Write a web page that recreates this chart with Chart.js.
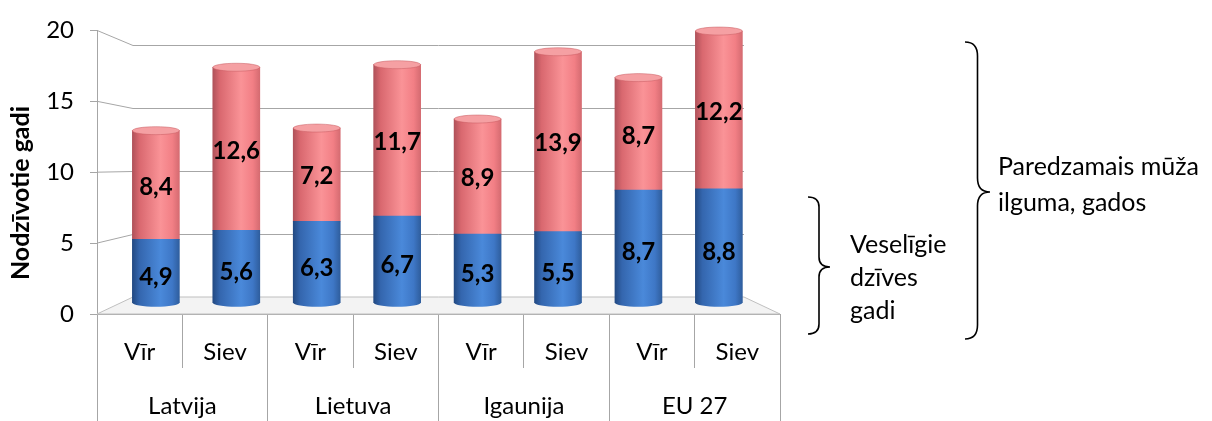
<!DOCTYPE html>
<html>
<head>
<meta charset="utf-8">
<script src="https://cdn.jsdelivr.net/npm/chart.js@4/dist/chart.umd.min.js"></script>
<style>
  html, body { margin: 0; padding: 0; background: #fff; }
</style>
</head>
<body>
<canvas id="chart" width="1212" height="421"></canvas>
<script>
const countries = ['Latvija', 'Lietuva', 'Igaunija', 'EU 27'];
const sexes = ['Vīr', 'Siev'];
const healthyYears = [4.9, 5.6, 6.3, 6.7, 5.3, 5.5, 8.7, 8.8];
const otherYears = [8.4, 12.6, 7.2, 11.7, 8.9, 13.9, 8.7, 12.2];
const yTicks = [0, 5, 10, 15, 20];
const yTitle = 'Nodzīvotie gadi';
const noteHealthy = ['Veselīgie', 'dzīves', 'gadi'];
const noteTotal = ['Paredzamais mūža', 'ilguma, gados'];

const barLabels = countries.flatMap(() => sexes);
const FONT = 'Lato';
const GRID = '#A6A6A6';
const barWidth = 47;
// fake 3d: back wall offset from the front axis
const depth = { dx: 36, dy: -17, k: 0.89 };

const redStops = [[0, '#B0525A'], [0.15, '#D9686F'], [0.6, '#FA9397'], [0.85, '#F27F85'], [1, '#D56B71']];
const blueStops = [[0, '#234A83'], [0.15, '#3466AE'], [0.6, '#4A89DA'], [0.85, '#3E77C6'], [1, '#2F5E9E']];

function cylinder(stops, plain) {
  return function (ctx) {
    const chart = ctx.chart;
    const xs = chart.scales.xBar;
    if (ctx.type !== 'data' || !xs) return plain;
    const cx = xs.getPixelForValue(ctx.dataIndex);
    if (!isFinite(cx)) return plain;
    const g = chart.ctx.createLinearGradient(cx - barWidth / 2, 0, cx + barWidth / 2, 0);
    stops.forEach(s => g.addColorStop(s[0], s[1]));
    return g;
  };
}

const fmt = v => v.toFixed(1).replace('.', ',');

function brace(c, x0, top, bottom, mid, w, r) {
  const xs = x0 + w * 0.5, xt = x0 + w;
  c.beginPath();
  c.moveTo(x0, top);
  c.quadraticCurveTo(xs, top, xs, top + r);
  c.lineTo(xs, mid - r);
  c.quadraticCurveTo(xs, mid, xt, mid);
  c.quadraticCurveTo(xs, mid, xs, mid + r);
  c.lineTo(xs, bottom - r);
  c.quadraticCurveTo(xs, bottom, x0, bottom);
  c.stroke();
}

const scene = {
  id: 'scene',
  beforeDatasetsDraw(chart) {
    const c = chart.ctx, a = chart.chartArea, y = chart.scales.y;
    const base = y.getPixelForValue(0);
    const xl = a.left + depth.dx, xr = a.right - depth.dx;
    const wallY = v => base + depth.dy + (y.getPixelForValue(v) - base) * depth.k;
    c.save();
    c.beginPath();
    c.moveTo(a.left, base);
    c.lineTo(xl, wallY(0));
    c.lineTo(xr, wallY(0));
    c.lineTo(a.right, base);
    c.closePath();
    c.fillStyle = '#F3F3F3';
    c.fill();
    c.strokeStyle = '#BFBFBF';
    c.lineWidth = 1;
    c.stroke();
    c.strokeStyle = GRID;
    yTicks.forEach(v => {
      if (v === 0) return;
      const yf = y.getPixelForValue(v), yw = Math.round(wallY(v)) + 0.5;
      c.beginPath();
      c.moveTo(a.left, yf);
      c.lineTo(xl, yw);
      c.lineTo(xr, yw);
      c.stroke();
    });
    c.restore();
  },
  afterDatasetsDraw(chart) {
    const c = chart.ctx;
    const low = chart.getDatasetMeta(0).data, high = chart.getDatasetMeta(1).data;
    c.save();
    low.forEach(el => {
      c.beginPath();
      c.ellipse(el.x, el.base, el.width / 2, 4, 0, 0, Math.PI);
      c.fillStyle = el.options.backgroundColor;
      c.fill();
    });
    high.forEach(el => {
      c.beginPath();
      c.ellipse(el.x, el.y, el.width / 2, 4, 0, 0, Math.PI * 2);
      c.fillStyle = '#F5A0A3';
      c.fill();
      c.strokeStyle = 'rgba(200,90,96,0.5)';
      c.lineWidth = 1;
      c.stroke();
    });
    c.fillStyle = '#000';
    c.font = 'bold 24px ' + FONT;
    c.textAlign = 'center';
    c.textBaseline = 'middle';
    [low, high].forEach((els, d) => {
      const vals = chart.data.datasets[d].data;
      els.forEach((el, i) => {
        c.fillText(fmt(vals[i].y), el.x, (el.y + el.base) / 2 + (d ? 2 : 6));
      });
    });
    c.restore();
  },
  afterDraw(chart) {
    const c = chart.ctx;
    c.save();
    // y axis title, placed like the original (below the axis middle)
    c.fillStyle = '#000';
    c.font = 'bold 25px ' + FONT;
    c.textAlign = 'center';
    c.textBaseline = 'middle';
    c.translate(21, 193);
    c.rotate(-Math.PI / 2);
    c.fillText(yTitle, 0, 0);
    c.restore();

    c.save();
    c.strokeStyle = '#000';
    c.lineWidth = 1.6;
    brace(c, 808, 197, 334, 267, 22, 10);
    brace(c, 965, 42, 339, 192, 25, 14);
    c.fillStyle = '#000';
    c.font = '25px ' + FONT;
    c.textAlign = 'left';
    c.textBaseline = 'middle';
    noteHealthy.forEach((t, i) => c.fillText(t, 850, 245 + i * 33));
    noteTotal.forEach((t, i) => c.fillText(t, 998, 167 + i * 36));
    c.restore();
  }
};

new Chart(document.getElementById('chart'), {
  type: 'bar',
  data: {
    datasets: [
      {
        label: 'Veselīgie dzīves gadi',
        data: healthyYears.map((v, i) => ({ x: i, y: v })),
        backgroundColor: cylinder(blueStops, '#3F7BC9'),
        barThickness: barWidth,
        xAxisID: 'xBar',
        yAxisID: 'yBar'
      },
      {
        label: 'Pārējie gadi',
        data: otherYears.map((v, i) => ({ x: i, y: v })),
        backgroundColor: cylinder(redStops, '#F08388'),
        barThickness: barWidth,
        xAxisID: 'xBar',
        yAxisID: 'yBar'
      }
    ]
  },
  options: {
    responsive: false,
    animation: false,
    layout: { padding: { left: 0, right: 432, top: 22, bottom: 0 } },
    plugins: { legend: { display: false }, tooltip: { enabled: false } },
    scales: {
      xBar: { type: 'linear', display: false, stacked: true, offset: false, min: -0.732, max: 7.76 },
      yBar: { type: 'linear', display: false, stacked: true, min: -0.87, max: 21.05 },
      x: {
        type: 'category',
        labels: barLabels,
        position: 'bottom',
        offset: true,
        grid: { offset: true, drawOnChartArea: false, tickLength: 54, color: GRID },
        border: { color: GRID },
        ticks: { padding: -30, color: '#000', font: { family: FONT, size: 24 }, autoSkip: false, maxRotation: 0 },
        afterFit: s => { s.height = 54; }
      },
      x2: {
        type: 'category',
        axis: 'x',
        labels: countries,
        position: 'bottom',
        offset: true,
        grid: { offset: true, drawOnChartArea: false, tickLength: 53, color: GRID },
        border: { display: false },
        ticks: { padding: -29, color: '#000', font: { family: FONT, size: 24 }, autoSkip: false, maxRotation: 0 },
        afterFit: s => { s.height = 53; }
      },
      y: {
        type: 'linear',
        position: 'left',
        min: 0,
        max: 20,
        afterBuildTicks: s => { s.ticks = yTicks.map(v => ({ value: v })); },
        grid: { drawOnChartArea: false, tickLength: 7, color: GRID },
        border: { color: GRID },
        ticks: { padding: 16, color: '#000', font: { family: FONT, size: 24 } },
        afterFit: s => { s.width = 97; }
      }
    }
  },
  plugins: [scene]
});
</script>
</body>
</html>
